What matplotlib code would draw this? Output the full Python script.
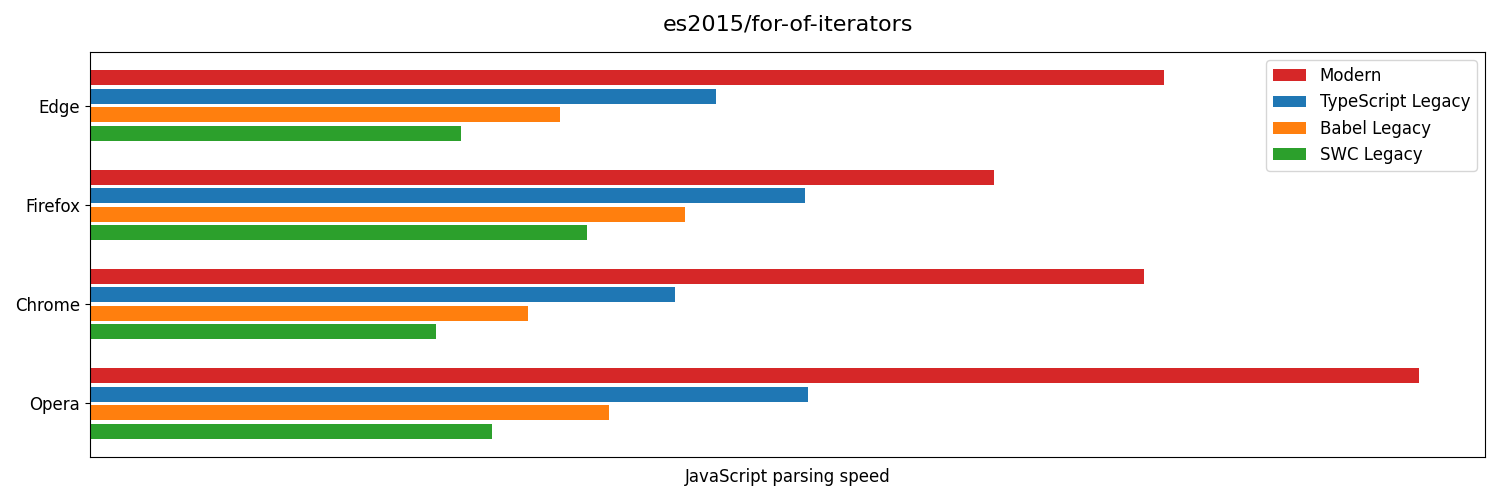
import numpy as np
import matplotlib.pyplot as plt

browsers = ['Opera', 'Chrome', 'Firefox', 'Edge']
series = ['Modern', 'TypeScript Legacy', 'Babel Legacy', 'SWC Legacy']
modern = [1329, 1054, 904, 1074]
typescript = [718, 585, 715, 626]
babel = [519, 438, 595, 470]
swc = [402, 346, 497, 371]
colors = ['tab:red', 'tab:blue', 'tab:orange', 'tab:green']


def main():
    fig, ax = plt.subplots(figsize=(15, 5), dpi=100)
    y = np.arange(len(browsers))
    h = 0.15
    step = 0.186
    values = [modern, typescript, babel, swc]
    for i, (name, vals) in enumerate(zip(series, values)):
        ax.barh(y + (1.5 - i) * step, vals, height=h, color=colors[i], label=name)

    ax.set_yticks(y)
    ax.set_yticklabels(browsers, fontsize=12)
    ax.set_xticks([])
    ax.set_xlim(0, max(modern) * 1.05)
    ax.set_ylim(-0.54, 3.54)
    ax.set_xlabel('JavaScript parsing speed', fontsize=12, labelpad=8)
    ax.set_title('es2015/for-of-iterators', fontsize=16, pad=15.5)
    ax.legend(loc='upper right', fontsize=12)

    fig.subplots_adjust(left=0.06, right=0.99, top=0.896, bottom=0.086)
    fig.savefig('out.png')


if __name__ == '__main__':
    main()
